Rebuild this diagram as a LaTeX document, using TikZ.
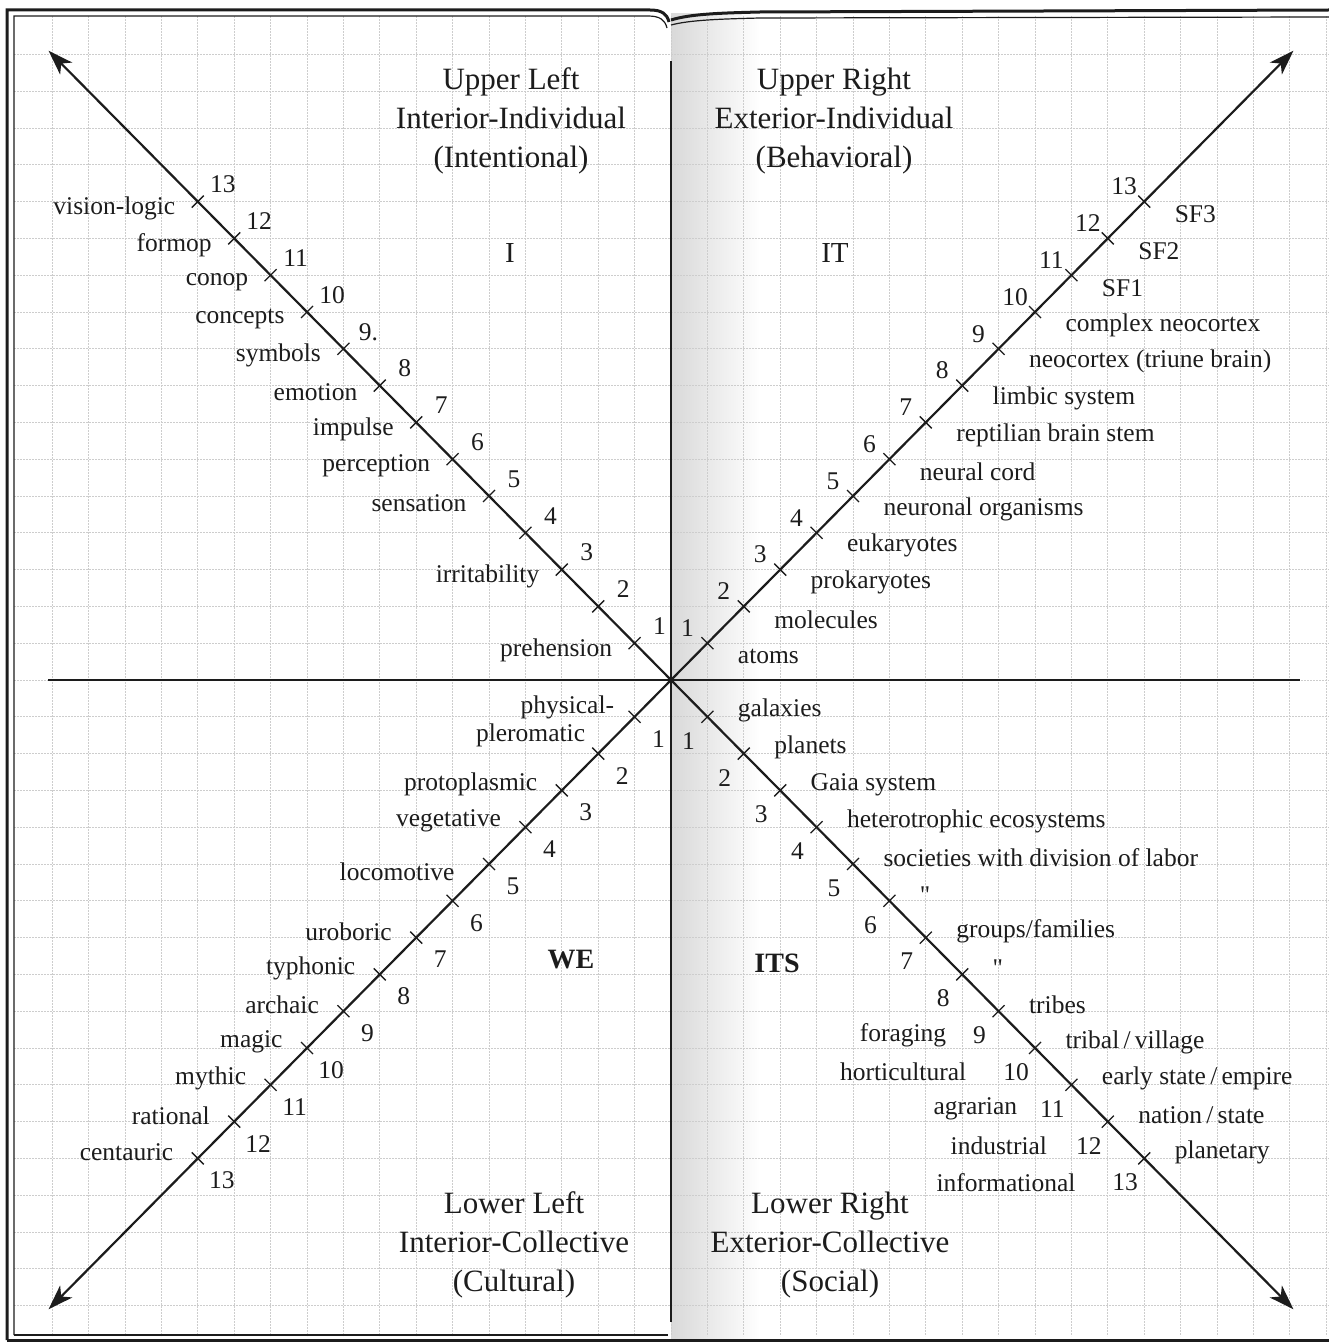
\documentclass[tikz,border=0pt]{standalone}
\usepackage{fontspec}
\setmainfont{Liberation Serif}
\usepackage{tikz}
\usetikzlibrary{arrows.meta, positioning}
\definecolor{inkColor}{HTML}{1C1C1C}
\definecolor{gridColor}{HTML}{CDCDCD}

\newcommand{\labelsize}{\fontsize{25.5}{30}\selectfont}
\newcommand{\headsize}{\fontsize{31}{39}\selectfont}

\begin{document}
\begin{tikzpicture}[x=1pt, y=-1pt,
    axisline/.style={line width=2pt, inkColor},
    diag/.style={line width=2.2pt, inkColor, -{Stealth[length=25pt, width=17pt, inset=7pt]}},
    tickmark/.style={line width=1.3pt, inkColor},
    gridline/.style={line width=0.8pt, gridColor, dash pattern=on 2pt off 1pt},
    frame/.style={line width=3pt, inkColor},
    frameinner/.style={line width=1.2pt, inkColor},
    num/.style={font=\labelsize, text=inkColor},
    lbl/.style={font=\labelsize, text=inkColor},
    head/.style={font=\headsize, align=center, text=inkColor},
    quad/.style={font=\fontsize{29}{32}\selectfont, text=inkColor}]

    \useasboundingbox (0,0) rectangle (1329,1343);

    % paper, spine shadow and grid
    \shade[left color=black!15, right color=white] (671,14) rectangle (760,1338);
    \foreach \k in {-17,...,18}
        \draw[gridline] ({671+\k*36.4},16) -- ({671+\k*36.4},1336);
    \foreach \k in {-17,...,17}
        \draw[gridline] (14,{680+\k*36.8}) -- (1329,{680+\k*36.8});

    % page borders
    \draw[frame] (7,1340) -- (7,10) -- (650,10) .. controls (662,10) and (667,14) .. (669,22);
    \draw[frameinner] (14,1335) -- (14,16) -- (648,16) .. controls (660,16) and (665,20) .. (667,28);
    \draw[frame] (671,20) .. controls (690,14) and (720,13) .. (760,12) -- (1329,10);
    \draw[frameinner] (671,25) .. controls (690,20) and (720,19) .. (760,18) -- (1329,17);
    \draw[frame] (7,1340) -- (1329,1340);
    \draw[frameinner] (14,1335) -- (668,1335);

    % axes
    \coordinate (o) at (671,680);
    \coordinate (ulend) at ({671-17.1*36.4},{680-17.1*36.8});
    \coordinate (urend) at ({671+17.1*36.4},{680-17.1*36.8});
    \coordinate (llend) at ({671-17.1*36.4},{680+17.1*36.8});
    \coordinate (lrend) at ({671+17.1*36.4},{680+17.1*36.8});
    \draw[axisline] (48,680) -- (1300,680);
    \draw[axisline] (671,61) -- (671,1322);
    \draw[diag] (o) -- (ulend);
    \draw[diag] (o) -- (urend);
    \draw[diag] (o) -- (llend);
    \draw[diag] (o) -- (lrend);

    \foreach \n in {1,...,13} {
        \coordinate (ul\n) at ({671-\n*36.4},{680-\n*36.8});
        \coordinate (ur\n) at ({671+\n*36.4},{680-\n*36.8});
        \coordinate (ll\n) at ({671-\n*36.4},{680+\n*36.8});
        \coordinate (lr\n) at ({671+\n*36.4},{680+\n*36.8});
        \draw[tickmark] (ul\n) ++(-6,6) -- ++(12,-12);
        \draw[tickmark] (ur\n) ++(-6,-6) -- ++(12,12);
        \draw[tickmark] (ll\n) ++(-6,-6) -- ++(12,12);
        \draw[tickmark] (lr\n) ++(-6,6) -- ++(12,-12);
        \node[num] (ulnum\n) at ([shift={(25,-17)}]ul\n) {\n\ifnum\n=9 .\fi};
        \node[num] (urnum\n) at ([shift={(-20,-15)}]ur\n) {\n};
        \node[num] (llnum\n) at ([shift={(24,22)}]ll\n) {\n};
        \node[num] (lrnum\n) at ([shift={(-19,24)}]lr\n) {\n};
    }

    % quadrant headings
    \node[head] (ulhead) at (511,121) {Upper Left\\Interior-Individual\\(Intentional)};
    \node[head] (urhead) at (834,121) {Upper Right\\Exterior-Individual\\(Behavioral)};
    \node[head] (llhead) at (514,1245) {Lower Left\\Interior-Collective\\(Cultural)};
    \node[head] (lrhead) at (830,1245) {Lower Right\\Exterior-Collective\\(Social)};
    \node[quad] (qi) at (510,253) {I};
    \node[quad] (qit) at (835,253) {IT};
    \node[quad, font=\fontsize{28}{32}\selectfont\bfseries] (qwe) at (571,960) {WE};
    \node[quad, font=\fontsize{28}{32}\selectfont\bfseries] (qits) at (777,963) {ITS};

    % upper left
    \foreach \n/\txt in {13/vision-logic, 12/formop, 11/conop, 10/concepts, 9/symbols,
            8/emotion, 7/impulse, 6/perception, 5/sensation, 3/irritability, 1/prehension}
        \node[lbl, anchor=east] (ultxt\n) at ([shift={(-19,7)}]ul\n) {\txt};

    % upper right
    \foreach \n/\txt in {13/SF3, 12/SF2, 11/SF1, 10/complex neocortex, 9/neocortex (triune brain),
            8/limbic system, 7/reptilian brain stem, 6/neural cord, 5/neuronal organisms,
            4/eukaryotes, 3/prokaryotes, 2/molecules, 1/atoms}
        \node[lbl, anchor=west] (urtxt\n) at ([shift={(27,13)}]ur\n) {\txt};

    % lower left
    \node[lbl, anchor=east] (lltxt1) at ([shift={(-17,-9)}]ll1) {physical-};
    \node[lbl, anchor=east] (lltxt1b) at ([shift={(-46,19)}]ll1) {pleromatic};
    \node[lbl, anchor=east] (lltxt5) at ([shift={(-31,8)}]ll5) {locomotive};
    \foreach \n/\txt in {3/protoplasmic, 4/vegetative, 7/uroboric, 8/typhonic, 9/archaic,
            10/magic, 11/mythic, 12/rational, 13/centauric}
        \node[lbl, anchor=east] (lltxt\n) at ([shift={(-21,-6)}]ll\n) {\txt};

    % lower right
    \foreach \n/\txt in {1/galaxies, 2/planets, 3/Gaia system, 4/heterotrophic ecosystems,
            5/societies with division of labor, 6/\textquotedbl, 7/{groups/families}, 8/\textquotedbl,
            9/tribes, 10/{tribal\,/\,village}, 11/{early state\,/\,empire}, 12/{nation\,/\,state},
            13/planetary}
        \node[lbl, anchor=west] (lrtxt\n) at ([shift={(27,-6)}]lr\n) {\txt};
    \foreach \n/\gap/\txt in {9/20pt/foraging, 10/30pt/horticultural, 11/16pt/agrarian,
            12/22pt/industrial, 13/30pt/informational}
        \node[lbl, left=\gap of lrnum\n] (lrera\n) {\txt};
\end{tikzpicture}
\end{document}
